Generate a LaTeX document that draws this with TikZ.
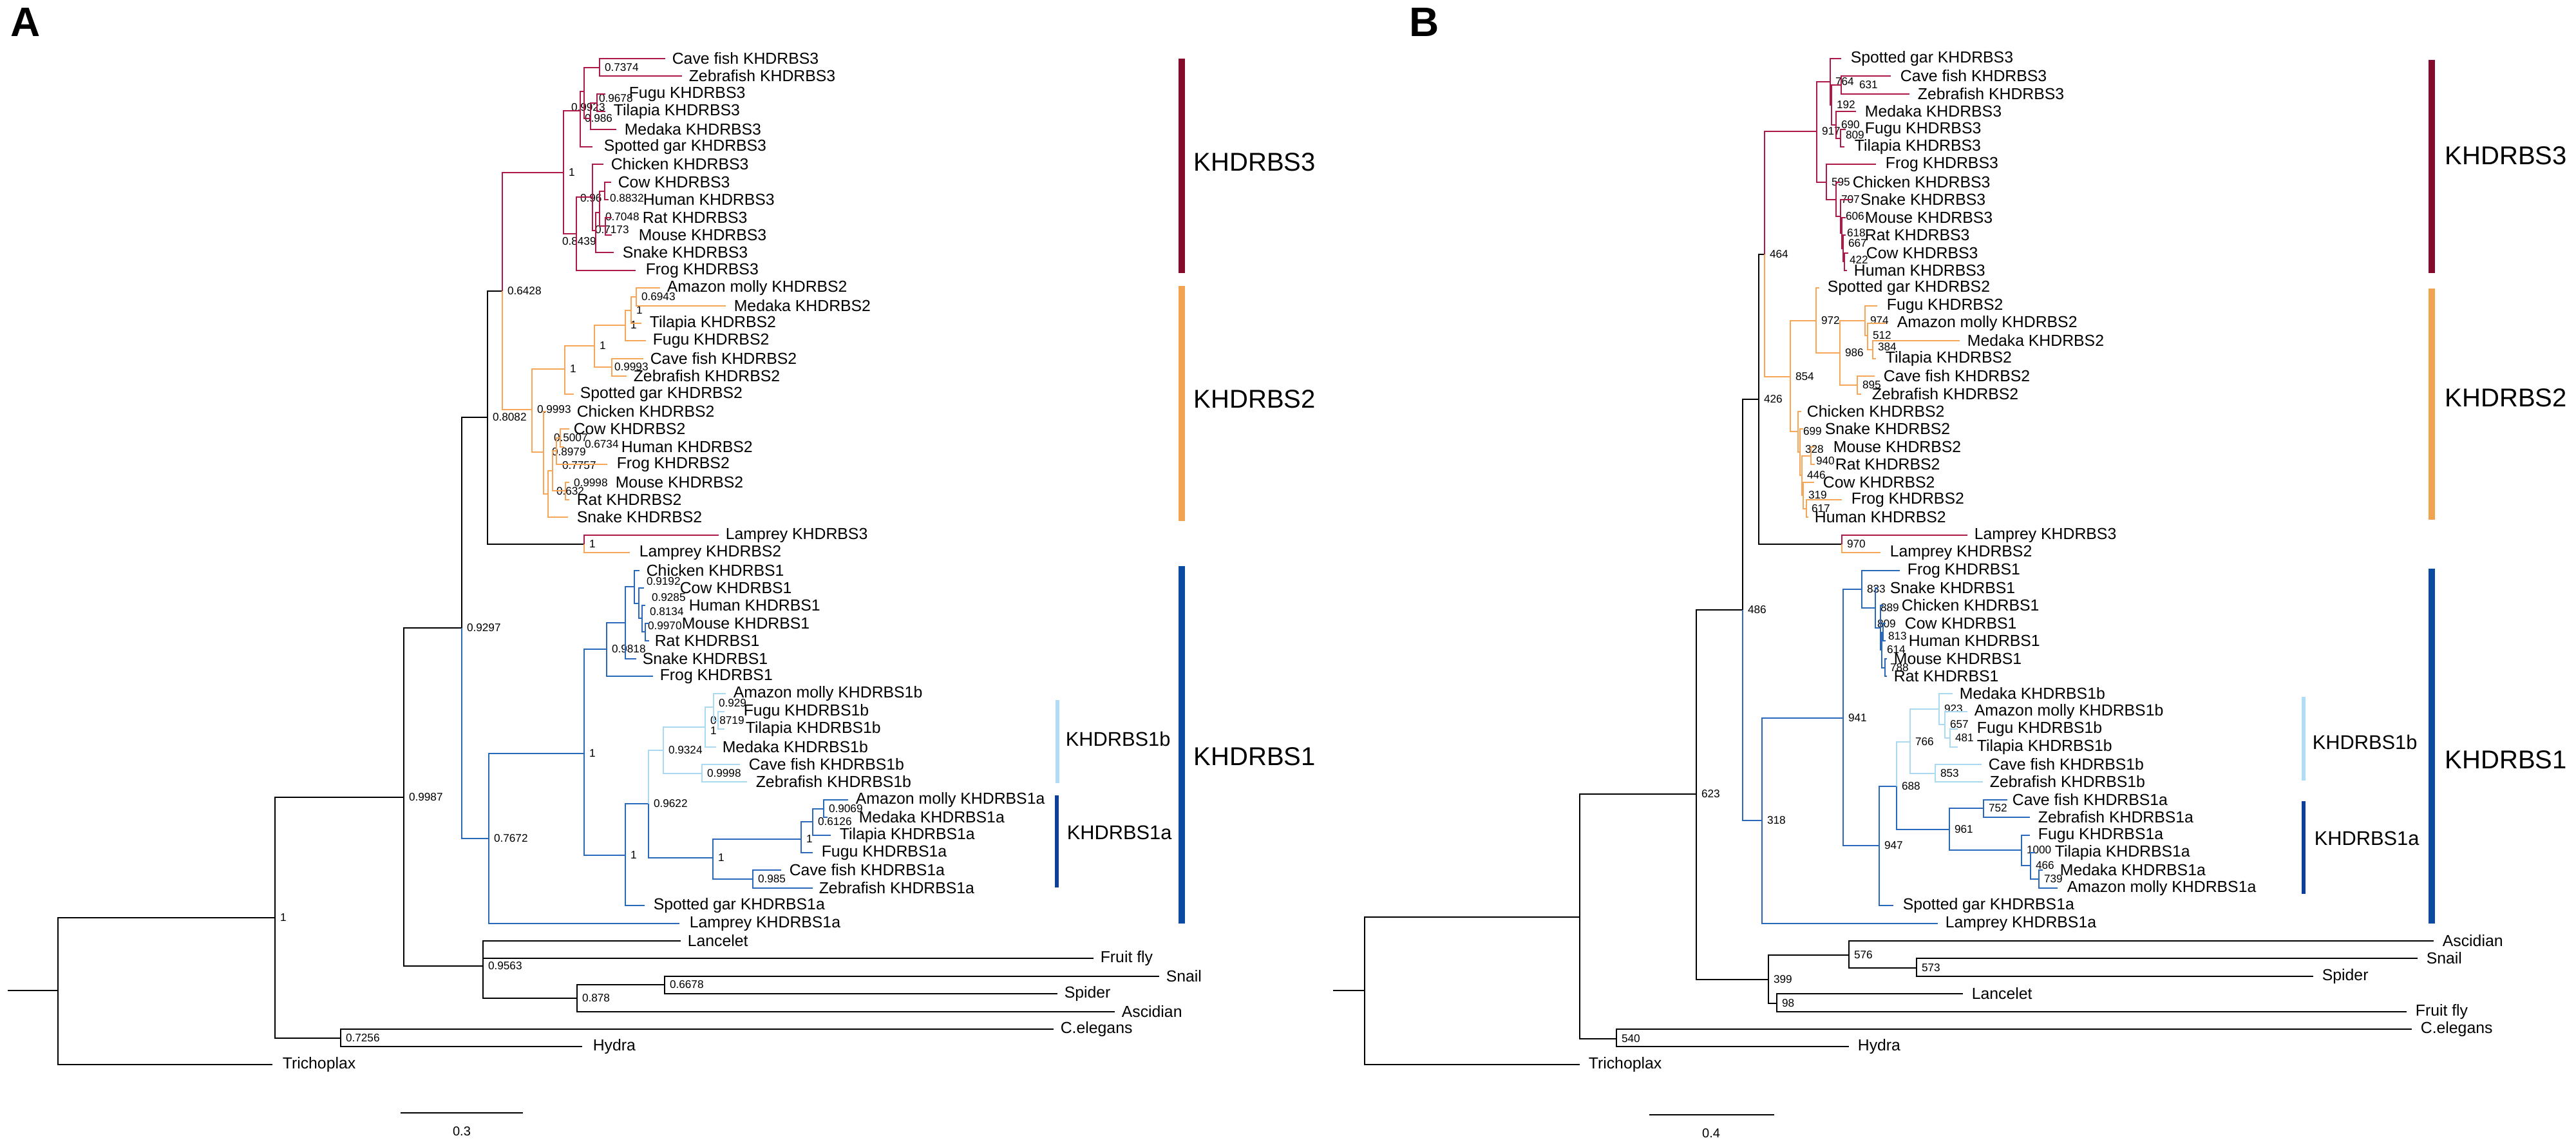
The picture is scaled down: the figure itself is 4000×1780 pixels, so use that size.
\documentclass[tikz,border=0pt]{standalone}
\usepackage{fontspec}
\setmainfont{Liberation Sans}
\definecolor{cred}{HTML}{AD1A48}
\definecolor{credbar}{HTML}{850B2C}
\definecolor{cora}{HTML}{F5A658}
\definecolor{corabar}{HTML}{F2A352}
\definecolor{cblu}{HTML}{2A68BC}
\definecolor{cblubar}{HTML}{0B4AA2}
\definecolor{clbl}{HTML}{A9DAF2}
\definecolor{clblbar}{HTML}{B0DDF5}
\definecolor{cabar}{HTML}{0D3F99}

\begin{document}
\begin{tikzpicture}[x=0.25pt,y=-0.25pt,label distance=1pt,
  ebk/.style={line width=0.65pt,draw=black},
  ered/.style={line width=0.5pt,draw=cred},
  eora/.style={line width=0.5pt,draw=cora},
  eblu/.style={line width=0.5pt,draw=cblu},
  elbl/.style={line width=0.5pt,draw=clbl},
  leaf/.style={anchor=west,inner xsep=2.5pt,inner ysep=0pt,font=\fontsize{6.2}{7}\selectfont},
  bs/.style={font=\fontsize{4.3}{5}\selectfont,inner sep=0.8pt},
  bsr/.style={label={[bs]right:#1}},
  bsx/.style n args={3}{label={[bs,xshift=#2,yshift=#3]right:#1}},
  clade/.style={anchor=west,inner sep=0pt,font=\fontsize{10}{12}\selectfont},
  subclade/.style={anchor=west,inner sep=0pt,font=\fontsize{7.7}{9}\selectfont},
  bar/.style={line width=2.6pt},
  scl/.style={font=\fontsize{5}{6}\selectfont,inner sep=0pt},
  pnl/.style={anchor=west,inner sep=0pt,font=\fontsize{16}{18}\selectfont\bfseries}]
\useasboundingbox (0,0) rectangle (4000,1780);

%%%%%%%%%%%%%%%% panel A
\node[pnl] (pa) at (16,34) {A};

% backbone
\coordinate (astub) at (12,1538);
\coordinate (aroot) at (90,1538);
\coordinate[bsr=1] (a1) at (427,1425);
\coordinate[bsr=0.9987] (a2) at (627,1238);
\coordinate[bsr=0.9297] (a3) at (717,975);
\coordinate[bsr=0.8082] (a4) at (757,648);
\coordinate[bsr=0.6428] (a5) at (780,452);
\coordinate[bsr=1] (alam) at (907,845);
\coordinate[bsr=0.7256] (ach) at (529,1612);
\coordinate[bsr=0.9563] (aout) at (750,1500);
\coordinate[bsr=0.878] (ag1) at (896,1550);
\coordinate[bsr=0.6678] (ag2) at (1032,1529);

\node[leaf] (alanc) at (1057,1461) {Lancelet};
\node[leaf] (afly) at (1698,1488) {Fruit fly};
\node[leaf] (asnail) at (1800,1516) {Snail};
\node[leaf] (aspid) at (1642,1543) {Spider};
\node[leaf] (aasc) at (1731,1571) {Ascidian};
\node[leaf] (acel) at (1636,1598) {C.elegans};
\node[leaf,inner xsep=4pt] (ahyd) at (904,1625) {Hydra};
\node[leaf,inner xsep=3.75pt] (atri) at (423,1653) {Trichoplax};
\node[leaf] (alam3) at (1116,831) {Lamprey KHDRBS3};
\node[leaf,inner xsep=3.5pt] (alam2) at (978,858) {Lamprey KHDRBS2};

\draw[ebk] (astub) -- (aroot);
\draw[ebk] (aroot) |- (a1);
\draw[ebk] (aroot) |- (atri.west);
\draw[ebk] (a1) |- (a2);
\draw[ebk] (a1) |- (ach);
\draw[ebk] (ach) |- (acel.west);
\draw[ebk] (ach) |- (ahyd.west);
\draw[ebk] (a2) |- (a3);
\draw[ebk] (a2) |- (aout);
\draw[ebk] (aout) |- (alanc.west);
\draw[ebk] (aout) |- (afly.west);
\draw[ebk] (aout) |- (ag1);
\draw[ebk] (ag1) |- (ag2);
\draw[ebk] (ag1) |- (aasc.west);
\draw[ebk] (ag2) |- (asnail.west);
\draw[ebk] (ag2) |- (aspid.west);
\draw[ebk] (a3) |- (a4);
\draw[ebk] (a4) |- (a5);
\draw[ebk] (a4) |- (alam);
\draw[ered] (alam) |- (alam3.west);
\draw[eora] (alam) |- (alam2.west);

% KHDRBS3
\coordinate[bsr=1] (a3r) at (875,268);
\coordinate (a3t) at (901,172);
\coordinate[bsx={0.9923}{-7pt}{-6.25pt}] (a3f) at (907,142);
\coordinate[bsr=0.7374] (a3cz) at (931,105);
\coordinate[bsx={0.986}{-4.25pt}{0pt}] (a3ftm) at (917,184);
\coordinate[bsx={0.9678}{-1.25pt}{1.75pt}] (a3ft) at (927,160);
\coordinate[bsx={0.8439}{-7.5pt}{-3pt}] (a3p) at (895,363);
\coordinate[bsx={0.96}{-6.75pt}{-0.5pt}] (a3q) at (920,306);
\coordinate (a3s) at (925,358);
\coordinate[bsx={0.7173}{-3.75pt}{-6.75pt}] (a3m) at (931,330);
\coordinate[bsx={0.8832}{0pt}{-2.75pt}] (a3ch) at (939,297);
\coordinate[bsx={0.7048}{-2pt}{3.5pt}] (a3rm) at (940,351);

\node[leaf] (a3cave) at (1033,91) {Cave fish KHDRBS3};
\node[leaf] (a3zeb) at (1059,118) {Zebrafish KHDRBS3};
\node[leaf,inner xsep=9pt] (a3fugu) at (940,146) {Fugu KHDRBS3};
\node[leaf,inner xsep=3pt] (a3tila) at (940,173) {Tilapia KHDRBS3};
\node[leaf,inner xsep=3pt] (a3meda) at (957,201) {Medaka KHDRBS3};
\node[leaf,inner xsep=4.25pt] (a3gar) at (920,228) {Spotted gar KHDRBS3};
\node[leaf,inner xsep=2.75pt] (a3chic) at (937,255) {Chicken KHDRBS3};
\node[leaf] (a3cow) at (949,283) {Cow KHDRBS3};
\node[leaf,inner xsep=13.25pt] (a3hum) at (945,310) {Human KHDRBS3};
\node[leaf,inner xsep=11.75pt] (a3rat) at (950,338) {Rat KHDRBS3};
\node[leaf,inner xsep=10.25pt] (a3mou) at (950,365) {Mouse KHDRBS3};
\node[leaf,inner xsep=3.25pt] (a3snak) at (953,392) {Snake KHDRBS3};
\node[leaf,inner xsep=3.75pt] (a3frog) at (987,420) {Frog KHDRBS3};

\draw[ered] (a5) |- (a3r);
\draw[ered] (a3r) |- (a3t);
\draw[ered] (a3r) |- (a3p);
\draw[ered] (a3t) |- (a3f);
\draw[ered] (a3t) |- (a3gar.west);
\draw[ered] (a3f) |- (a3cz);
\draw[ered] (a3f) |- (a3ftm);
\draw[ered] (a3cz) |- (a3cave.west);
\draw[ered] (a3cz) |- (a3zeb.west);
\draw[ered] (a3ftm) |- (a3ft);
\draw[ered] (a3ftm) |- (a3meda.west);
\draw[ered] (a3ft) |- (a3fugu.west);
\draw[ered] (a3ft) |- (a3tila.west);
\draw[ered] (a3p) |- (a3q);
\draw[ered] (a3p) |- (a3frog.west);
\draw[ered] (a3q) |- (a3chic.west);
\draw[ered] (a3q) |- (a3s);
\draw[ered] (a3s) |- (a3m);
\draw[ered] (a3s) |- (a3snak.west);
\draw[ered] (a3m) |- (a3ch);
\draw[ered] (a3m) |- (a3rm);
\draw[ered] (a3ch) |- (a3cow.west);
\draw[ered] (a3ch) |- (a3hum.west);
\draw[ered] (a3rm) |- (a3rat.west);
\draw[ered] (a3rm) |- (a3mou.west);

% KHDRBS2
\coordinate[bsr=0.9993] (ao1) at (826,636);
\coordinate[bsr=1] (ao2) at (877,573);
\coordinate[bsr=1] (ao5) at (923,537);
\coordinate[bsx={0.9993}{-1pt}{0pt}] (ao7) at (950,570);
\coordinate[bsr=1] (ao6) at (971,505);
\coordinate[bsr=1] (ao8) at (980,482);
\coordinate[bsr=0.6943] (ao9) at (988,461);
\coordinate[bsx={0.8979}{1.25pt}{0pt}] (ao3) at (844,702);
\coordinate[bsx={0.632}{1.25pt}{1pt}] (aor) at (851,767);
\coordinate[bsx={0.7757}{1.75pt}{2pt}] (aos) at (858,731);
\coordinate[bsx={0.6734}{9pt}{2.5pt}] (aot) at (864,700);
\coordinate[bsx={0.5007}{-4.5pt}{0pt}] (aow) at (870,680);
\coordinate[bsx={0.9998}{1.25pt}{3pt}] (aou) at (878,762);

\node[leaf] (a2amaz) at (1025,447) {Amazon molly KHDRBS2};
\node[leaf,inner xsep=3pt] (a2meda) at (1127,475) {Medaka KHDRBS2};
\node[leaf,inner xsep=3pt] (a2tila) at (996,502) {Tilapia KHDRBS2};
\node[leaf] (a2fugu) at (1003,529) {Fugu KHDRBS2};
\node[leaf] (a2cave) at (999,557) {Cave fish KHDRBS2};
\node[leaf] (a2zeb) at (973,584) {Zebrafish KHDRBS2};
\node[leaf,inner xsep=2.25pt] (a2gar) at (891,612) {Spotted gar KHDRBS2};
\node[leaf,inner xsep=11.75pt] (a2chic) at (848,639) {Chicken KHDRBS2};
\node[leaf,inner xsep=1.5pt] (a2cow) at (884,666) {Cow KHDRBS2};
\node[leaf,inner xsep=22pt] (a2hum) at (876,694) {Human KHDRBS2};
\node[leaf,inner xsep=3.5pt] (a2frog) at (943,721) {Frog KHDRBS2};
\node[leaf,inner xsep=17.75pt] (a2mou) at (884,749) {Mouse KHDRBS2};
\node[leaf,inner xsep=2.75pt] (a2rat) at (884,776) {Rat KHDRBS2};
\node[leaf,inner xsep=3.25pt] (a2snak) at (882,803) {Snake KHDRBS2};

\draw[eora] (a5) |- (ao1);
\draw[eora] (ao1) |- (ao2);
\draw[eora] (ao1) |- (ao3);
\draw[eora] (ao2) |- (ao5);
\draw[eora] (ao2) |- (a2gar.west);
\draw[eora] (ao5) |- (ao6);
\draw[eora] (ao5) |- (ao7);
\draw[eora] (ao7) |- (a2cave.west);
\draw[eora] (ao7) |- (a2zeb.west);
\draw[eora] (ao6) |- (ao8);
\draw[eora] (ao6) |- (a2fugu.west);
\draw[eora] (ao8) |- (ao9);
\draw[eora] (ao8) |- (a2tila.west);
\draw[eora] (ao9) |- (a2amaz.west);
\draw[eora] (ao9) |- (a2meda.west);
\draw[eora] (ao3) |- (a2chic.west);
\draw[eora] (ao3) |- (aor);
\draw[eora] (aor) |- (aos);
\draw[eora] (aor) |- (a2snak.west);
\draw[eora] (aos) |- (aot);
\draw[eora] (aos) |- (aou);
\draw[eora] (aot) |- (aow);
\draw[eora] (aot) |- (a2frog.west);
\draw[eora] (aow) |- (a2cow.west);
\draw[eora] (aow) |- (a2hum.west);
\draw[eora] (aou) |- (a2mou.west);
\draw[eora] (aou) |- (a2rat.west);

% KHDRBS1
\coordinate[bsr=0.7672] (ab1) at (759,1302);
\coordinate[bsr=1] (ab2) at (907,1170);
\coordinate[bsr=0.9818] (ab3) at (942,1008);
\coordinate (ab5) at (971,967);
\coordinate[bsx={0.9192}{2.75pt}{2pt}] (ab6) at (985,911);
\coordinate[bsx={0.9285}{3pt}{2.25pt}] (abc) at (992,937);
\coordinate[bsx={0.8134}{1pt}{2.5pt}] (abh) at (997,960);
\coordinate[bsx={0.9970}{-1pt}{2.25pt}] (abmr) at (1002,981);
\coordinate[bsr=1] (ab4) at (971,1328);
\coordinate[bsr=0.9622] (ab8) at (1007,1248);
\coordinate[bsr=0.9324] (ac1) at (1030,1165);
\coordinate[bsx={1}{0pt}{-1.5pt}] (ac3) at (1095,1129);
\coordinate[bsx={0.929}{0pt}{1.5pt}] (ac2) at (1108,1098);
\coordinate[bsx={0.8719}{-5pt}{0pt}] (ac5) at (1115,1119);
\coordinate[bsr=0.9998] (ac4) at (1090,1201);
\coordinate[bsr=1] (ab9) at (1107,1332);
\coordinate[bsr=0.985] (ad5) at (1169,1365);
\coordinate[bsr=1] (ad6) at (1244,1303);
\coordinate[bsr=0.6126] (ad7) at (1262,1276);
\coordinate[bsr=0.9069] (ad8) at (1279,1256);

\node[leaf] (a1chic) at (993,886) {Chicken KHDRBS1};
\node[leaf,inner xsep=13.75pt] (a1cow) at (1000,913) {Cow KHDRBS1};
\node[leaf,inner xsep=16.75pt] (a1hum) at (1002,940) {Human KHDRBS1};
\node[leaf,inner xsep=12.5pt] (a1mou) at (1008,968) {Mouse KHDRBS1};
\node[leaf,inner xsep=2pt] (a1rat) at (1008,995) {Rat KHDRBS1};
\node[leaf,inner xsep=2.25pt] (a1snak) at (988,1023) {Snake KHDRBS1};
\node[leaf] (a1frog) at (1014,1050) {Frog KHDRBS1};
\node[leaf,inner xsep=2.75pt] (a1bamaz) at (1127,1077) {Amazon molly KHDRBS1b};
\node[leaf,inner xsep=7.25pt] (a1bfugu) at (1125,1105) {Fugu KHDRBS1b};
\node[leaf,inner xsep=8pt] (a1btila) at (1125,1132) {Tilapia KHDRBS1b};
\node[leaf,inner xsep=2.25pt] (a1bmeda) at (1112,1160) {Medaka KHDRBS1b};
\node[leaf,inner xsep=3.25pt] (a1bcave) at (1149,1187) {Cave fish KHDRBS1b};
\node[leaf,inner xsep=3.25pt] (a1bzeb) at (1160,1214) {Zebrafish KHDRBS1b};
\node[leaf,inner xsep=2.75pt] (a1aamaz) at (1317,1242) {Amazon molly KHDRBS1a};
\node[leaf,inner xsep=12pt] (a1ameda) at (1285,1269) {Medaka KHDRBS1a};
\node[leaf,inner xsep=3.25pt] (a1atila) at (1290,1297) {Tilapia KHDRBS1a};
\node[leaf,inner xsep=3.25pt] (a1afugu) at (1262,1324) {Fugu KHDRBS1a};
\node[leaf,inner xsep=3pt] (a1acave) at (1213,1351) {Cave fish KHDRBS1a};
\node[leaf,inner xsep=2.25pt] (a1azeb) at (1262,1379) {Zebrafish KHDRBS1a};
\node[leaf,inner xsep=3.25pt] (a1agar) at (1001,1406) {Spotted gar KHDRBS1a};
\node[leaf,inner xsep=3.75pt] (a1alam) at (1055,1434) {Lamprey KHDRBS1a};

\draw[eblu] (a3) |- (ab1);
\draw[eblu] (ab1) |- (ab2);
\draw[eblu] (ab1) |- (a1alam.west);
\draw[eblu] (ab2) |- (ab3);
\draw[eblu] (ab2) |- (ab4);
\draw[eblu] (ab3) |- (ab5);
\draw[eblu] (ab3) |- (a1frog.west);
\draw[eblu] (ab5) |- (ab6);
\draw[eblu] (ab5) |- (a1snak.west);
\draw[eblu] (ab6) |- (a1chic.west);
\draw[eblu] (ab6) |- (abc);
\draw[eblu] (abc) |- (a1cow.west);
\draw[eblu] (abc) |- (abh);
\draw[eblu] (abh) |- (a1hum.west);
\draw[eblu] (abh) |- (abmr);
\draw[eblu] (abmr) |- (a1mou.west);
\draw[eblu] (abmr) |- (a1rat.west);
\draw[eblu] (ab4) |- (ab8);
\draw[eblu] (ab4) |- (a1agar.west);
\draw[elbl] (ab8) |- (ac1);
\draw[eblu] (ab8) |- (ab9);
\draw[elbl] (ac1) |- (ac3);
\draw[elbl] (ac1) |- (ac4);
\draw[elbl] (ac3) |- (ac2);
\draw[elbl] (ac3) |- (a1bmeda.west);
\draw[elbl] (ac2) |- (a1bamaz.west);
\draw[elbl] (ac2) |- (ac5);
\draw[elbl] (ac5) |- (a1bfugu.west);
\draw[elbl] (ac5) |- (a1btila.west);
\draw[elbl] (ac4) |- (a1bcave.west);
\draw[elbl] (ac4) |- (a1bzeb.west);
\draw[eblu] (ab9) |- (ad6);
\draw[eblu] (ab9) |- (ad5);
\draw[eblu] (ad5) |- (a1acave.west);
\draw[eblu] (ad5) |- (a1azeb.west);
\draw[eblu] (ad6) |- (ad7);
\draw[eblu] (ad6) |- (a1afugu.west);
\draw[eblu] (ad7) |- (ad8);
\draw[eblu] (ad7) |- (a1atila.west);
\draw[eblu] (ad8) |- (a1aamaz.west);
\draw[eblu] (ad8) |- (a1ameda.west);

% clade bars
\coordinate (a3bt) at (1835,91);  \coordinate (a3bb) at (1835,424);
\coordinate (a2bt) at (1835,444); \coordinate (a2bb) at (1835,809);
\coordinate (a1bt) at (1835,879); \coordinate (a1bb) at (1835,1434);
\coordinate (abbt) at (1642,1087); \coordinate (abbb) at (1642,1216);
\coordinate (aabt) at (1641,1235); \coordinate (aabb) at (1641,1378);
\draw[bar,draw=credbar] (a3bt) -- (a3bb);
\draw[bar,draw=corabar] (a2bt) -- (a2bb);
\draw[bar,draw=cblubar] (a1bt) -- (a1bb);
\draw[line width=1.6pt,draw=clblbar] (abbt) -- (abbb);
\draw[line width=1.6pt,draw=cabar] (aabt) -- (aabb);
\node[clade] (a3lab) at (1853,252) {KHDRBS3};
\node[clade] (a2lab) at (1853,620) {KHDRBS2};
\node[clade] (a1lab) at (1853,1175) {KHDRBS1};
\node[subclade] (ablab) at (1654,1147) {KHDRBS1b};
\node[subclade] (aalab) at (1656,1293) {KHDRBS1a};

% scale
\coordinate (asb1) at (622,1728); \coordinate (asb2) at (812,1728);
\draw[ebk] (asb1) -- (asb2);
\node[scl] (asbl) at (717,1757) {0.3};

%%%%%%%%%%%%%%%% panel B
\node[pnl] (pb) at (2188,34) {B};

% backbone
\coordinate (bstub) at (2070,1538);
\coordinate (broot) at (2119,1538);
\coordinate (b1) at (2453,1424);
\coordinate[bsr=540] (bch) at (2510,1613);
\coordinate[bsr=623] (b2) at (2634,1233);
\coordinate[bsr=399] (bg1) at (2746,1521);
\coordinate[bsr=576] (bg2) at (2871,1483);
\coordinate[bsr=573] (bg4) at (2976,1503);
\coordinate[bsr=98] (bg3) at (2759,1558);
\coordinate[bsr=486] (b3) at (2706,947);
\coordinate[bsr=426] (b4) at (2731,620);
\coordinate[bsr=464] (b5) at (2740,395);
\coordinate[bsr=970] (blam) at (2860,845);

\node[leaf,inner xsep=3.25pt] (basc) at (3779,1461) {Ascidian};
\node[leaf,inner xsep=3.25pt] (bsnail) at (3754,1488) {Snail};
\node[leaf,inner xsep=3.25pt] (bspid) at (3592,1516) {Spider};
\node[leaf,inner xsep=3.25pt] (blanc) at (3048,1543) {Lancelet};
\node[leaf,inner xsep=3.25pt] (bfly) at (3737,1571) {Fruit fly};
\node[leaf,inner xsep=3.25pt] (bcel) at (3745,1598) {C.elegans};
\node[leaf,inner xsep=3.25pt] (bhyd) at (2871,1625) {Hydra};
\node[leaf,inner xsep=3.25pt] (btri) at (2453,1653) {Trichoplax};
\node[leaf] (blam3) at (3055,831) {Lamprey KHDRBS3};
\node[leaf,inner xsep=3.5pt] (blam2) at (2920,858) {Lamprey KHDRBS2};

\draw[ebk] (bstub) -- (broot);
\draw[ebk] (broot) |- (b1);
\draw[ebk] (broot) |- (btri.west);
\draw[ebk] (b1) |- (b2);
\draw[ebk] (b1) |- (bch);
\draw[ebk] (bch) |- (bcel.west);
\draw[ebk] (bch) |- (bhyd.west);
\draw[ebk] (b2) |- (b3);
\draw[ebk] (b2) |- (bg1);
\draw[ebk] (bg1) |- (bg2);
\draw[ebk] (bg1) |- (bg3);
\draw[ebk] (bg2) |- (basc.west);
\draw[ebk] (bg2) |- (bg4);
\draw[ebk] (bg4) |- (bsnail.west);
\draw[ebk] (bg4) |- (bspid.west);
\draw[ebk] (bg3) |- (blanc.west);
\draw[ebk] (bg3) |- (bfly.west);
\draw[ebk] (b3) |- (b4);
\draw[ebk] (b4) |- (b5);
\draw[ebk] (b4) |- (blam);
\draw[ered] (blam) |- (blam3.west);
\draw[eora] (blam) |- (blam2.west);

% KHDRBS3
\coordinate[bsr=917] (b3r) at (2821,204);
\coordinate[bsr=764] (b3f) at (2842,127);
\coordinate[bsr=192] (b3g) at (2844,163);
\coordinate[bsx={631}{5pt}{0pt}] (b3cz) at (2859,132);
\coordinate[bsr=690] (b3m) at (2851,194);
\coordinate[bsx={809}{0pt}{1.25pt}] (b3ft) at (2858,215);
\coordinate[bsr=595] (b3t1) at (2836,283);
\coordinate[bsr=707] (b3t2) at (2851,310);
\coordinate[bsr=606] (b3t3) at (2858,336);
\coordinate[bsr=618] (b3t4) at (2860,362);
\coordinate[bsx={667}{0pt}{2pt}] (b3t5) at (2862,386);
\coordinate[bsx={422}{0pt}{0.75pt}] (b3t6) at (2864,406);

\node[leaf,inner xsep=3.5pt] (b3gar) at (2859,91) {Spotted gar KHDRBS3};
\node[leaf,inner xsep=3.5pt] (b3cave) at (2936,118) {Cave fish KHDRBS3};
\node[leaf,inner xsep=3pt] (b3zeb) at (2965,146) {Zebrafish KHDRBS3};
\node[leaf,inner xsep=3.25pt] (b3meda) at (2882,173) {Medaka KHDRBS3};
\node[leaf,inner xsep=7.25pt] (b3fugu) at (2866,201) {Fugu KHDRBS3};
\node[leaf,inner xsep=3.75pt] (b3tila) at (2864,228) {Tilapia KHDRBS3};
\node[leaf,inner xsep=3.5pt] (b3frog) at (2913,255) {Frog KHDRBS3};
\node[leaf,inner xsep=4.5pt] (b3chic) at (2858,283) {Chicken KHDRBS3};
\node[leaf,inner xsep=3pt] (b3snak) at (2876,310) {Snake KHDRBS3};
\node[leaf,inner xsep=7.25pt] (b3mou) at (2866,338) {Mouse KHDRBS3};
\node[leaf,inner xsep=7.25pt] (b3rat) at (2866,365) {Rat KHDRBS3};
\node[leaf,inner xsep=6.75pt] (b3cow) at (2870,393) {Cow KHDRBS3};
\node[leaf,inner xsep=2.5pt] (b3hum) at (2868,420) {Human KHDRBS3};

\draw[ered] (b5) |- (b3r);
\draw[ered] (b3r) |- (b3f);
\draw[ered] (b3r) |- (b3t1);
\draw[ered] (b3f) |- (b3gar.west);
\draw[ered] (b3f) |- (b3g);
\draw[ered] (b3g) |- (b3cz);
\draw[ered] (b3g) |- (b3m);
\draw[ered] (b3cz) |- (b3cave.west);
\draw[ered] (b3cz) |- (b3zeb.west);
\draw[ered] (b3m) |- (b3meda.west);
\draw[ered] (b3m) |- (b3ft);
\draw[ered] (b3ft) |- (b3fugu.west);
\draw[ered] (b3ft) |- (b3tila.west);
\draw[ered] (b3t1) |- (b3frog.west);
\draw[ered] (b3t1) |- (b3t2);
\draw[ered] (b3t2) |- (b3chic.west);
\draw[ered] (b3t2) |- (b3t3);
\draw[ered] (b3t3) |- (b3snak.west);
\draw[ered] (b3t3) |- (b3t4);
\draw[ered] (b3t4) |- (b3mou.west);
\draw[ered] (b3t4) |- (b3t5);
\draw[ered] (b3t5) |- (b3rat.west);
\draw[ered] (b3t5) |- (b3t6);
\draw[ered] (b3t6) |- (b3cow.west);
\draw[ered] (b3t6) |- (b3hum.west);

% KHDRBS2
\coordinate[bsr=854] (bo1) at (2780,585);
\coordinate[bsr=972] (bo2) at (2820,498);
\coordinate[bsr=986] (bo3) at (2857,548);
\coordinate[bsr=974] (bo4) at (2896,498);
\coordinate[bsr=512] (bo6) at (2900,521);
\coordinate[bsx={384}{0pt}{1pt}] (bo7) at (2908,543);
\coordinate[bsr=895] (bo5) at (2884,598);
\coordinate[bsr=699] (bo8) at (2792,670);
\coordinate[bsx={328}{0pt}{1pt}] (bp5) at (2795,702);
\coordinate[bsr=446] (bp4) at (2798,738);
\coordinate[bsx={940}{0pt}{-2pt}] (bp3) at (2812,708);
\coordinate[bsr=319] (bp2) at (2800,769);
\coordinate[bsr=617] (bp1) at (2805,790);

\node[leaf,inner xsep=3pt] (b2gar) at (2825,447) {Spotted gar KHDRBS2};
\node[leaf,inner xsep=3.5pt] (b2fugu) at (2915,475) {Fugu KHDRBS2};
\node[leaf,inner xsep=4pt] (b2amaz) at (2929,502) {Amazon molly KHDRBS2};
\node[leaf,inner xsep=2.75pt] (b2meda) at (3043,529) {Medaka KHDRBS2};
\node[leaf,inner xsep=3.5pt] (b2tila) at (2913,557) {Tilapia KHDRBS2};
\node[leaf,inner xsep=3.25pt] (b2cave) at (2911,584) {Cave fish KHDRBS2};
\node[leaf,inner xsep=4pt] (b2zeb) at (2890,612) {Zebrafish KHDRBS2};
\node[leaf,inner xsep=2pt] (b2chic) at (2797,639) {Chicken KHDRBS2};
\node[leaf,inner xsep=8.25pt] (b2snak) at (2800,666) {Snake KHDRBS2};
\node[leaf,inner xsep=7pt] (b2mou) at (2818,694) {Mouse KHDRBS2};
\node[leaf,inner xsep=7.75pt] (b2rat) at (2818,721) {Rat KHDRBS2};
\node[leaf,inner xsep=3.25pt] (b2cow) at (2817,749) {Cow KHDRBS2};
\node[leaf,inner xsep=3.5pt] (b2frog) at (2860,776) {Frog KHDRBS2};
\node[leaf,inner xsep=2.25pt] (b2hum) at (2808,803) {Human KHDRBS2};

\draw[eora] (b5) |- (bo1);
\draw[eora] (bo1) |- (bo2);
\draw[eora] (bo1) |- (bo8);
\draw[eora] (bo2) |- (b2gar.west);
\draw[eora] (bo2) |- (bo3);
\draw[eora] (bo3) |- (bo4);
\draw[eora] (bo3) |- (bo5);
\draw[eora] (bo4) |- (b2fugu.west);
\draw[eora] (bo4) |- (bo6);
\draw[eora] (bo6) |- (b2amaz.west);
\draw[eora] (bo6) |- (bo7);
\draw[eora] (bo7) |- (b2meda.west);
\draw[eora] (bo7) |- (b2tila.west);
\draw[eora] (bo5) |- (b2cave.west);
\draw[eora] (bo5) |- (b2zeb.west);
\draw[eora] (bo8) |- (b2chic.west);
\draw[eora] (bo8) |- (bp5);
\draw[eora] (bp5) |- (b2snak.west);
\draw[eora] (bp5) |- (bp4);
\draw[eora] (bp4) |- (bp3);
\draw[eora] (bp4) |- (bp2);
\draw[eora] (bp3) |- (b2mou.west);
\draw[eora] (bp3) |- (b2rat.west);
\draw[eora] (bp2) |- (b2cow.west);
\draw[eora] (bp2) |- (bp1);
\draw[eora] (bp1) |- (b2frog.west);
\draw[eora] (bp1) |- (b2hum.west);

% KHDRBS1
\coordinate[bsr=318] (bb1) at (2736,1274);
\coordinate[bsr=941] (bb2) at (2862,1115);
\coordinate[bsr=833] (bb3) at (2891,915);
\coordinate[bsr=889] (bb5) at (2912,944);
\coordinate[bsx={809}{-3.25pt}{1.5pt}] (bb6) at (2920,975);
\coordinate[bsr=614] (bb7) at (2922,1009);
\coordinate[bsx={813}{0pt}{-1.5pt}] (bb8) at (2924,982);
\coordinate[bsr=788] (bb9) at (2927,1037);
\coordinate[bsr=947] (bb4) at (2918,1313);
\coordinate[bsr=688] (bb10) at (2945,1221);
\coordinate[bsr=766] (bc1) at (2966,1152);
\coordinate[bsr=923] (bc2) at (3011,1101);
\coordinate[bsr=657] (bc4) at (3020,1125);
\coordinate[bsr=481] (bc5) at (3028,1146);
\coordinate[bsr=853] (bc3) at (3005,1201);
\coordinate[bsr=961] (ba1) at (3027,1288);
\coordinate[bsr=752] (ba2) at (3080,1255);
\coordinate[bsr=1000] (ba3) at (3139,1320);
\coordinate[bsr=466] (ba4) at (3153,1344);
\coordinate[bsr=739] (ba5) at (3166,1365);

\node[leaf,inner xsep=2.75pt] (b1frog) at (2950,886) {Frog KHDRBS1};
\node[leaf,inner xsep=4.5pt] (b1snak) at (2916,913) {Snake KHDRBS1};
\node[leaf,inner xsep=6.75pt] (b1chic) at (2925,940) {Chicken KHDRBS1};
\node[leaf,inner xsep=7.25pt] (b1cow) at (2928,968) {Cow KHDRBS1};
\node[leaf,inner xsep=8.75pt] (b1hum) at (2928,995) {Human KHDRBS1};
\node[leaf] (b1mou) at (2930,1023) {Mouse KHDRBS1};
\node[leaf] (b1rat) at (2930,1050) {Rat KHDRBS1};
\node[leaf] (b1bmeda) at (3032,1077) {Medaka KHDRBS1b};
\node[leaf] (b1bamaz) at (3055,1105) {Amazon molly KHDRBS1b};
\node[leaf,inner xsep=7.25pt] (b1bfugu) at (3040,1132) {Fugu KHDRBS1b};
\node[leaf,inner xsep=7.25pt] (b1btila) at (3040,1160) {Tilapia KHDRBS1b};
\node[leaf] (b1bcave) at (3077,1187) {Cave fish KHDRBS1b};
\node[leaf] (b1bzeb) at (3079,1214) {Zebrafish KHDRBS1b};
\node[leaf,inner xsep=1.75pt] (b1acave) at (3117,1242) {Cave fish KHDRBS1a};
\node[leaf,inner xsep=3pt] (b1azeb) at (3152,1269) {Zebrafish KHDRBS1a};
\node[leaf,inner xsep=3pt] (b1afugu) at (3152,1297) {Fugu KHDRBS1a};
\node[leaf,inner xsep=7.5pt] (b1atila) at (3160,1324) {Tilapia KHDRBS1a};
\node[leaf,inner xsep=6.5pt] (b1ameda) at (3172,1351) {Medaka KHDRBS1a};
\node[leaf,inner xsep=3.5pt] (b1aamaz) at (3195,1379) {Amazon molly KHDRBS1a};
\node[leaf,inner xsep=3.5pt] (b1agar) at (2940,1406) {Spotted gar KHDRBS1a};
\node[leaf,inner xsep=2.75pt] (b1alam) at (3009,1434) {Lamprey KHDRBS1a};

\draw[eblu] (b3) |- (bb1);
\draw[eblu] (bb1) |- (bb2);
\draw[eblu] (bb1) |- (b1alam.west);
\draw[eblu] (bb2) |- (bb3);
\draw[eblu] (bb2) |- (bb4);
\draw[eblu] (bb3) |- (b1frog.west);
\draw[eblu] (bb3) |- (bb5);
\draw[eblu] (bb5) |- (b1snak.west);
\draw[eblu] (bb5) |- (bb6);
\draw[eblu] (bb6) |- (b1chic.west);
\draw[eblu] (bb6) |- (bb7);
\draw[eblu] (bb7) |- (bb8);
\draw[eblu] (bb7) |- (bb9);
\draw[eblu] (bb8) |- (b1cow.west);
\draw[eblu] (bb8) |- (b1hum.west);
\draw[eblu] (bb9) |- (b1mou.west);
\draw[eblu] (bb9) |- (b1rat.west);
\draw[eblu] (bb4) |- (bb10);
\draw[eblu] (bb4) |- (b1agar.west);
\draw[elbl] (bb10) |- (bc1);
\draw[eblu] (bb10) |- (ba1);
\draw[elbl] (bc1) |- (bc2);
\draw[elbl] (bc1) |- (bc3);
\draw[elbl] (bc2) |- (b1bmeda.west);
\draw[elbl] (bc2) |- (bc4);
\draw[elbl] (bc4) |- (b1bamaz.west);
\draw[elbl] (bc4) |- (bc5);
\draw[elbl] (bc5) |- (b1bfugu.west);
\draw[elbl] (bc5) |- (b1btila.west);
\draw[elbl] (bc3) |- (b1bcave.west);
\draw[elbl] (bc3) |- (b1bzeb.west);
\draw[eblu] (ba1) |- (ba2);
\draw[eblu] (ba1) |- (ba3);
\draw[eblu] (ba2) |- (b1acave.west);
\draw[eblu] (ba2) |- (b1azeb.west);
\draw[eblu] (ba3) |- (b1afugu.west);
\draw[eblu] (ba3) |- (ba4);
\draw[eblu] (ba4) |- (b1atila.west);
\draw[eblu] (ba4) |- (ba5);
\draw[eblu] (ba5) |- (b1ameda.west);
\draw[eblu] (ba5) |- (b1aamaz.west);

% clade bars
\coordinate (b3bt) at (3776,93);  \coordinate (b3bb) at (3776,424);
\coordinate (b2bt) at (3776,448); \coordinate (b2bb) at (3776,807);
\coordinate (b1bt) at (3776,883); \coordinate (b1bb) at (3776,1434);
\coordinate (bbbt) at (3577,1082); \coordinate (bbbb) at (3577,1212);
\coordinate (babt) at (3577,1244); \coordinate (babb) at (3577,1388);
\draw[bar,draw=credbar] (b3bt) -- (b3bb);
\draw[bar,draw=corabar] (b2bt) -- (b2bb);
\draw[bar,draw=cblubar] (b1bt) -- (b1bb);
\draw[line width=1.6pt,draw=clblbar] (bbbt) -- (bbbb);
\draw[line width=1.6pt,draw=cabar] (babt) -- (babb);
\node[clade] (b3lab) at (3796,242) {KHDRBS3};
\node[clade] (b2lab) at (3796,618) {KHDRBS2};
\node[clade] (b1lab) at (3796,1180) {KHDRBS1};
\node[subclade] (bblab) at (3590,1152) {KHDRBS1b};
\node[subclade] (balab) at (3593,1302) {KHDRBS1a};

% scale
\coordinate (bsb1) at (2561,1731); \coordinate (bsb2) at (2755,1731);
\draw[ebk] (bsb1) -- (bsb2);
\node[scl] (bsbl) at (2657,1760) {0.4};
\end{tikzpicture}
\end{document}
